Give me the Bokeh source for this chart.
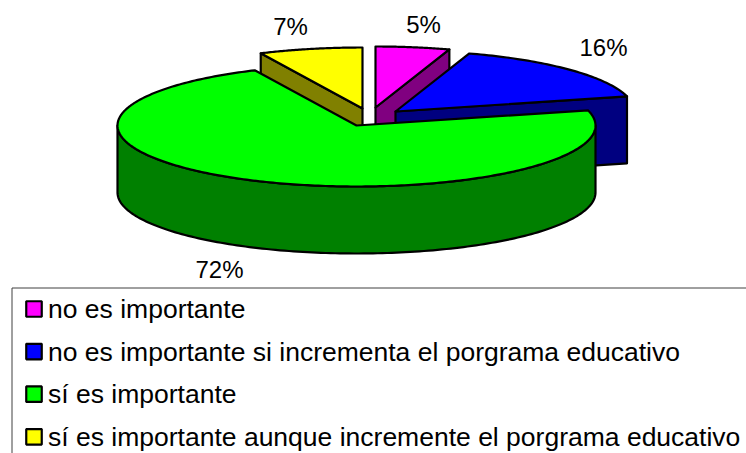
import numpy as np
from bokeh.plotting import figure
from bokeh.models import Range1d
from bokeh.embed import file_html
from bokeh.resources import INLINE
from bokeh.core.properties import value

categories = ["no es importante", "no es importante si incrementa el porgrama educativo",
              "sí es importante", "sí es importante aunque incremente el porgrama educativo"]
values = [5, 16, 72, 7]
top_colors = ["#ff00ff", "#0000ff", "#00ff00", "#ffff00"]
side_colors = ["#800080", "#000080", "#008000", "#808000"]

# layout (page pixels)
APEX = [(375, 107), (395, 111), (356, 125), (362, 108)]
A, B, DEPTH = 239, 61, 67
LABEL_POS = [(423, 24), (603, 47), (219, 269), (290, 26)]
LW = 2.2
FONT = value("Liberation Sans")

p = figure(width=746, height=453, output_backend="svg", toolbar_location=None,
           x_range=Range1d(0, 746), y_range=Range1d(453, 0),
           min_border=0, outline_line_color=None)
p.xaxis.visible = False
p.yaxis.visible = False
p.grid.visible = False


def rim(cx, cy, deg, dy=0):
    t = np.radians(deg)
    return cx + A * np.cos(t), cy - B * np.sin(t) + dy


fr = np.array(values) / sum(values)
edges = 90 - 360 * np.concatenate([[0], np.cumsum(fr)])


def poly(xs, ys, fill):
    p.patch(xs, ys, fill_color=fill, line_color="black", line_width=LW, line_join="round")


# radial side faces at the back slices
for i in (0, 3, 1):
    cx, cy = APEX[i]
    edge = edges[i + 1] if i < 2 else edges[i]
    rx, ry = rim(cx, cy, edge)
    poly([cx, rx, rx, cx], [cy, ry, ry + DEPTH, cy + DEPTH], side_colors[i])

# tops of the back slices
for i in (0, 3, 1):
    cx, cy = APEX[i]
    ts = np.linspace(edges[i], edges[i + 1], 60)
    rx, ry = rim(cx, cy, ts)
    poly(np.r_[cx, rx], np.r_[cy, ry], top_colors[i])

# big slice: outer wall, then top
cx, cy = APEX[2]
ts = np.linspace(0, -180, 160)
rx, ry = rim(cx, cy, ts)
poly(np.r_[rx, rx[::-1]], np.r_[ry, ry[::-1] + DEPTH], side_colors[2])
ts = np.linspace(edges[2], edges[3], 300)
rx, ry = rim(cx, cy, ts)
poly(np.r_[cx, rx], np.r_[cy, ry], top_colors[2])

# percentage labels
p.text([q[0] for q in LABEL_POS], [q[1] for q in LABEL_POS],
       text=[f"{v}%" for v in values], text_font=FONT, text_font_size="24px",
       text_align="center", text_baseline="middle", text_color="black")

# legend
LEFT, TOP, RIGHT, ROWS, STEP = 11.5, 287.5, 746, 308.5, 42.6
p.segment([LEFT, LEFT], [TOP, TOP], [RIGHT, LEFT], [TOP, 453], line_color="#404040", line_width=1)
ys = [ROWS + STEP * i for i in range(len(categories))]
p.rect([33.5] * 4, ys, width=15.5, height=15.5, fill_color=top_colors,
       line_color="black", line_width=2.2)
p.text([47.5] * 4, ys, text=categories, text_font=FONT, text_font_size="26.5px",
       text_baseline="middle", text_align="left", text_color="black")

open("out.html", "w").write(file_html(p, INLINE))
